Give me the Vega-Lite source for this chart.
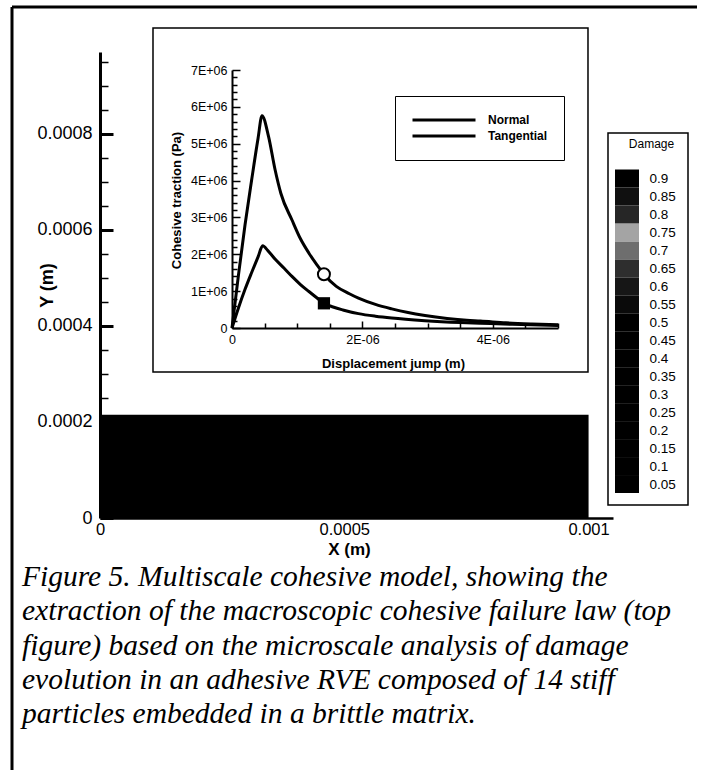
{
  "$schema": "https://vega.github.io/schema/vega-lite/v6.json",
  "width": 513,
  "height": 466,
  "autosize": "none",
  "padding": {"left": 100, "top": 52, "right": 88, "bottom": 252},
  "background": "white",
  "config": {
    "view": {"stroke": null},
    "axis": {"domainColor": "black", "tickColor": "black", "labelColor": "black", "titleColor": "black", "grid": false, "labelFont": "Liberation Sans", "titleFont": "Liberation Sans", "labelOverlap": false, "labelFlush": false}
  },
  "resolve": {"scale": {"x": "independent", "y": "independent", "color": "independent"}},
  "layer": [
    {
      "data": {"values": [{"x0": 0, "x1": 0.001, "y0": 0, "y1": 0.000215}]},
      "resolve": {"axis": {"y": "independent"}},
      "layer": [
        {
          "mark": {"type": "rect", "color": "black"},
          "encoding": {
            "x": {"field": "x0", "type": "quantitative", "scale": {"domain": [0, 0.00105], "nice": false, "zero": false},
              "axis": {"orient": "bottom", "values": [0, 0.0005, 0.001], "format": "~g", "ticks": false, "domainWidth": 2.5, "labelFontSize": 16.5, "labelPadding": 3, "title": "X (m)", "titleFontSize": 17, "titleFontWeight": "bold", "titleX": 249, "titleY": 31, "titleAlign": "center", "titleBaseline": "middle"}},
            "x2": {"field": "x1"},
            "y": {"field": "y0", "type": "quantitative", "scale": {"domain": [0, 0.00097], "nice": false, "zero": false},
              "axis": {"orient": "left", "values": [0, 0.0002, 0.0004, 0.0006, 0.0008], "format": "~g", "ticks": false, "domainWidth": 3, "labelFontSize": 18, "labelPadding": 8, "title": "Y (m)", "titleFontSize": 18, "titleFontWeight": "bold", "titleX": -53, "titleY": 233, "titleAngle": -90, "titleAlign": "center", "titleBaseline": "middle"}},
            "y2": {"field": "y1"}
          }
        },
        {
          "mark": {"type": "rule", "opacity": 0},
          "encoding": {
            "y": {"field": "y0", "type": "quantitative", "scale": {"domain": [0, 0.00097], "nice": false, "zero": false},
              "axis": {"orient": "right", "offset": -513, "domain": false, "labels": false, "title": null,
                "values": [0, 0.00005, 0.0001, 0.00015, 0.0002, 0.00025, 0.0003, 0.00035, 0.0004, 0.00045, 0.0005, 0.00055, 0.0006, 0.00065, 0.0007, 0.00075, 0.0008, 0.00085, 0.0009, 0.00095],
                "tickSize": {"condition": {"test": "round(datum.value*100000) % 20 == 0", "value": 13}, "value": 8},
                "tickWidth": {"condition": {"test": "round(datum.value*100000) % 20 == 0", "value": 3}, "value": 1.5}}}
          }
        }
      ]
    },
    {
      "data": {"values": [{}]},
      "layer": [
        {
          "mark": {"type": "rule", "color": "black", "strokeWidth": 3},
          "encoding": {
            "x": {"datum": 0, "type": "quantitative", "scale": {"domain": [0, 1], "range": [-88, 597], "nice": false, "zero": false}, "axis": null},
            "x2": {"datum": 1},
            "y": {"datum": 0, "type": "quantitative", "scale": {"domain": [0, 1], "range": [-45, 718], "nice": false, "zero": false}, "axis": null}
          }
        },
        {
          "mark": {"type": "rule", "color": "black", "strokeWidth": 3},
          "encoding": {
            "x": {"datum": 0, "type": "quantitative", "scale": {"domain": [0, 1], "range": [-88, 597], "nice": false, "zero": false}, "axis": null},
            "y": {"datum": 0, "type": "quantitative", "scale": {"domain": [0, 1], "range": [-45, 718], "nice": false, "zero": false}, "axis": null},
            "y2": {"datum": 1}
          }
        }
      ]
    },
    {
      "resolve": {"axis": {"x": "independent", "y": "independent"}},
      "layer": [
        {
          "data": {"values": [{}]},
          "mark": {"type": "rect", "fill": "white", "stroke": "black", "strokeWidth": 1.5},
          "encoding": {
            "x": {"datum": -0.0000012117, "type": "quantitative", "scale": {"domain": [0, 0.000005], "range": [132, 458], "nice": false, "zero": false},
              "axis": {"orient": "bottom", "offset": -190, "zindex": 2, "values": [0, 0.000002, 0.000004], "labelExpr": "datum.value == 0 ? '0' : round(datum.value*1000000) + 'E-06'", "ticks": false, "domainWidth": 2, "labelFontSize": 12.5, "labelPadding": 5, "title": "Displacement jump (m)", "titleFontSize": 13, "titleFontWeight": "bold", "titleX": 293, "titleY": 35, "titleAlign": "center", "titleBaseline": "middle"}},
            "x2": {"datum": 0.00000546},
            "y": {"datum": -1194000, "type": "quantitative", "scale": {"domain": [0, 7000000], "range": [276, 18], "nice": false, "zero": false},
              "axis": {"orient": "left", "offset": -132, "zindex": 2, "values": [0, 1000000, 2000000, 3000000, 4000000, 5000000, 6000000, 7000000], "labelExpr": "datum.value == 0 ? '0' : round(datum.value/1000000) + 'E+06'", "ticks": false, "domainWidth": 2, "labelFontSize": 12.5, "labelPadding": 5, "title": "Cohesive traction (Pa)", "titleFontSize": 13, "titleFontWeight": "bold", "titleX": -56, "titleY": 148, "titleAngle": -90, "titleAlign": "center", "titleBaseline": "middle"}},
            "y2": {"datum": 8139000}
          }
        },
        {
          "data": {"values": [
            {"series": "Normal", "d": 0, "t": 0},
            {"series": "Normal", "d": 1e-7, "t": 1450000},
            {"series": "Normal", "d": 2e-7, "t": 2800000},
            {"series": "Normal", "d": 3e-7, "t": 4000000},
            {"series": "Normal", "d": 4e-7, "t": 5150000},
            {"series": "Normal", "d": 4.6e-7, "t": 5760000},
            {"series": "Normal", "d": 5.6e-7, "t": 5200000},
            {"series": "Normal", "d": 6.6e-7, "t": 4300000},
            {"series": "Normal", "d": 7.5e-7, "t": 3650000},
            {"series": "Normal", "d": 9.2e-7, "t": 2930000},
            {"series": "Normal", "d": 1.05e-6, "t": 2420000},
            {"series": "Normal", "d": 1.18e-6, "t": 2030000},
            {"series": "Normal", "d": 1.3e-6, "t": 1720000},
            {"series": "Normal", "d": 1.41e-6, "t": 1460000},
            {"series": "Normal", "d": 1.6e-6, "t": 1130000},
            {"series": "Normal", "d": 1.8e-6, "t": 930000},
            {"series": "Normal", "d": 1.94e-6, "t": 810000},
            {"series": "Normal", "d": 2.2e-6, "t": 640000},
            {"series": "Normal", "d": 2.45e-6, "t": 520000},
            {"series": "Normal", "d": 2.7e-6, "t": 420000},
            {"series": "Normal", "d": 2.96e-6, "t": 340000},
            {"series": "Normal", "d": 3.3e-6, "t": 260000},
            {"series": "Normal", "d": 3.6e-6, "t": 210000},
            {"series": "Normal", "d": 3.81e-6, "t": 190000},
            {"series": "Normal", "d": 4.2e-6, "t": 140000},
            {"series": "Normal", "d": 4.6e-6, "t": 110000},
            {"series": "Normal", "d": 5e-6, "t": 90000},
            {"series": "Tangential", "d": 0, "t": 0},
            {"series": "Tangential", "d": 1e-7, "t": 550000},
            {"series": "Tangential", "d": 2e-7, "t": 1050000},
            {"series": "Tangential", "d": 3e-7, "t": 1500000},
            {"series": "Tangential", "d": 4e-7, "t": 1930000},
            {"series": "Tangential", "d": 4.7e-7, "t": 2230000},
            {"series": "Tangential", "d": 5.5e-7, "t": 2100000},
            {"series": "Tangential", "d": 6.6e-7, "t": 1870000},
            {"series": "Tangential", "d": 8e-7, "t": 1620000},
            {"series": "Tangential", "d": 9.2e-7, "t": 1400000},
            {"series": "Tangential", "d": 1.05e-6, "t": 1180000},
            {"series": "Tangential", "d": 1.18e-6, "t": 990000},
            {"series": "Tangential", "d": 1.3e-6, "t": 820000},
            {"series": "Tangential", "d": 1.41e-6, "t": 670000},
            {"series": "Tangential", "d": 1.55e-6, "t": 570000},
            {"series": "Tangential", "d": 1.7e-6, "t": 490000},
            {"series": "Tangential", "d": 1.94e-6, "t": 390000},
            {"series": "Tangential", "d": 2.2e-6, "t": 320000},
            {"series": "Tangential", "d": 2.45e-6, "t": 270000},
            {"series": "Tangential", "d": 2.96e-6, "t": 200000},
            {"series": "Tangential", "d": 3.5e-6, "t": 150000},
            {"series": "Tangential", "d": 3.81e-6, "t": 130000},
            {"series": "Tangential", "d": 4.3e-6, "t": 100000},
            {"series": "Tangential", "d": 5e-6, "t": 70000}
          ]},
          "mark": {"type": "line", "strokeWidth": 3, "interpolate": "monotone"},
          "encoding": {
            "x": {"field": "d", "type": "quantitative", "scale": {"domain": [0, 0.000005], "range": [132, 458], "nice": false, "zero": false},
              "axis": {"orient": "top", "offset": -276, "zindex": 2, "domain": false, "labels": false, "title": null,
                "values": [0, 5e-7, 1e-6, 1.5e-6, 2e-6, 2.5e-6, 3e-6, 3.5e-6, 4e-6, 4.5e-6, 5e-6],
                "tickSize": {"condition": {"test": "round(datum.value*2000000) % 4 == 0", "value": 7}, "value": 5}, "tickWidth": 1.5}},
            "y": {"field": "t", "type": "quantitative", "scale": {"domain": [0, 7000000], "range": [276, 18], "nice": false, "zero": false},
              "axis": {"orient": "right", "offset": -381, "zindex": 2, "domain": false, "labels": false, "title": null,
                "values": [0, 200000, 400000, 600000, 800000, 1000000, 1200000, 1400000, 1600000, 1800000, 2000000, 2200000, 2400000, 2600000, 2800000, 3000000, 3200000, 3400000, 3600000, 3800000, 4000000, 4200000, 4400000, 4600000, 4800000, 5000000, 5200000, 5400000, 5600000, 5800000, 6000000, 6200000, 6400000, 6600000, 6800000, 7000000],
                "tickSize": {"condition": {"test": "round(datum.value/200000) % 5 == 0", "value": 8}, "value": 5}, "tickWidth": 1.5}},
            "color": {"field": "series", "type": "nominal", "scale": {"domain": ["Normal", "Tangential"], "range": ["black", "black"]},
              "legend": {"orient": "none", "legendX": 295, "legendY": 44, "title": null, "symbolType": "stroke", "symbolSize": 3969, "symbolStrokeWidth": 3, "symbolStrokeColor": "black", "clipHeight": 16, "rowPadding": 0, "labelOffset": 11, "labelFont": "Liberation Sans", "labelFontSize": 12, "labelFontWeight": "bold", "labelColor": "black", "padding": 16, "strokeColor": "black", "fillColor": "white"}}
          }
        },
        {
          "data": {"values": [{"series": "Normal", "d": 1.41e-6, "t": 1460000}]},
          "mark": {"type": "point", "shape": "circle", "filled": true, "fill": "white", "stroke": "black", "strokeWidth": 2, "size": 144, "opacity": 1},
          "encoding": {
            "x": {"field": "d", "type": "quantitative", "scale": {"domain": [0, 0.000005], "range": [132, 458], "nice": false, "zero": false}, "axis": null},
            "y": {"field": "t", "type": "quantitative", "scale": {"domain": [0, 7000000], "range": [276, 18], "nice": false, "zero": false}, "axis": null}
          }
        },
        {
          "data": {"values": [{"series": "Tangential", "d": 1.41e-6, "t": 670000}]},
          "mark": {"type": "square", "color": "black", "filled": true, "size": 150, "opacity": 1},
          "encoding": {
            "x": {"field": "d", "type": "quantitative", "scale": {"domain": [0, 0.000005], "range": [132, 458], "nice": false, "zero": false}, "axis": null},
            "y": {"field": "t", "type": "quantitative", "scale": {"domain": [0, 7000000], "range": [276, 18], "nice": false, "zero": false}, "axis": null}
          }
        }
      ]
    },
    {
      "resolve": {"axis": {"x": "independent", "y": "independent"}},
      "layer": [
        {
          "data": {"values": [{}]},
          "mark": {"type": "rect", "fill": "white", "stroke": "black", "strokeWidth": 1.5},
          "encoding": {
            "x": {"datum": -0.2917, "type": "quantitative", "scale": {"domain": [0, 1], "range": [515, 539], "nice": false, "zero": false}, "axis": null},
            "x2": {"datum": 3.0417},
            "y": {"datum": -0.0084, "type": "quantitative", "scale": {"domain": [0.025, 0.925], "range": [441, 117.5], "nice": false, "zero": false},
              "axis": {"orient": "right", "offset": 26, "zindex": 2, "values": [0.05, 0.1, 0.15, 0.2, 0.25, 0.3, 0.35, 0.4, 0.45, 0.5, 0.55, 0.6, 0.65, 0.7, 0.75, 0.8, 0.85, 0.9], "format": "~g", "domain": false, "ticks": false, "labelFontSize": 13.5, "labelPadding": 10, "labelAlign": "left", "labelBaseline": "middle", "title": "Damage", "titleFontSize": 12, "titleFontWeight": "normal", "titleAngle": 0, "titleX": 12, "titleY": 91, "titleAlign": "center", "titleBaseline": "middle"}},
            "y2": {"datum": 1.0267}
          }
        },
        {
          "data": {"values": [
            {"level": 0.05, "lo": 0.025, "hi": 0.075},
            {"level": 0.1, "lo": 0.075, "hi": 0.125},
            {"level": 0.15, "lo": 0.125, "hi": 0.175},
            {"level": 0.2, "lo": 0.175, "hi": 0.225},
            {"level": 0.25, "lo": 0.225, "hi": 0.275},
            {"level": 0.3, "lo": 0.275, "hi": 0.325},
            {"level": 0.35, "lo": 0.325, "hi": 0.375},
            {"level": 0.4, "lo": 0.375, "hi": 0.425},
            {"level": 0.45, "lo": 0.425, "hi": 0.475},
            {"level": 0.5, "lo": 0.475, "hi": 0.525},
            {"level": 0.55, "lo": 0.525, "hi": 0.575},
            {"level": 0.6, "lo": 0.575, "hi": 0.625},
            {"level": 0.65, "lo": 0.625, "hi": 0.675},
            {"level": 0.7, "lo": 0.675, "hi": 0.725},
            {"level": 0.75, "lo": 0.725, "hi": 0.775},
            {"level": 0.8, "lo": 0.775, "hi": 0.825},
            {"level": 0.85, "lo": 0.825, "hi": 0.875},
            {"level": 0.9, "lo": 0.875, "hi": 0.925}
          ]},
          "mark": {"type": "rect"},
          "encoding": {
            "x": {"datum": 0, "type": "quantitative", "scale": {"domain": [0, 1], "range": [515, 539], "nice": false, "zero": false}, "axis": null},
            "x2": {"datum": 1},
            "y": {"field": "lo", "type": "quantitative", "scale": {"domain": [0.025, 0.925], "range": [441, 117.5], "nice": false, "zero": false}, "axis": null},
            "y2": {"field": "hi"},
            "color": {"field": "level", "type": "ordinal", "legend": null,
              "scale": {"domain": [0.05, 0.1, 0.15, 0.2, 0.25, 0.3, 0.35, 0.4, 0.45, 0.5, 0.55, 0.6, 0.65, 0.7, 0.75, 0.8, 0.85, 0.9],
                "range": ["#000000", "#000000", "#000000", "#000000", "#000000", "#000000", "#000000", "#000000", "#000000", "#000000", "#0a0a0a", "#161616", "#2e2e2e", "#6e6e6e", "#a4a4a4", "#262626", "#101010", "#000000"]}}
          }
        }
      ]
    },
    {
      "data": {"values": [
        {"line": 1, "text": "Figure 5. Multiscale cohesive model, showing the"},
        {"line": 2, "text": "extraction of the macroscopic cohesive failure law (top"},
        {"line": 3, "text": "figure) based on the microscale analysis of damage"},
        {"line": 4, "text": "evolution in an adhesive RVE composed of 14 stiff"},
        {"line": 5, "text": "particles embedded in a brittle matrix."}
      ]},
      "mark": {"type": "text", "font": "Liberation Serif", "fontStyle": "italic", "fontSize": 29.5, "align": "left", "baseline": "middle", "color": "black"},
      "encoding": {
        "x": {"datum": 0, "type": "quantitative", "scale": {"domain": [0, 1], "range": [-78, 583], "nice": false, "zero": false}, "axis": null},
        "y": {"field": "line", "type": "quantitative", "scale": {"domain": [1, 5], "range": [525, 662], "nice": false, "zero": false}, "axis": null},
        "text": {"field": "text"}
      }
    }
  ]
}
